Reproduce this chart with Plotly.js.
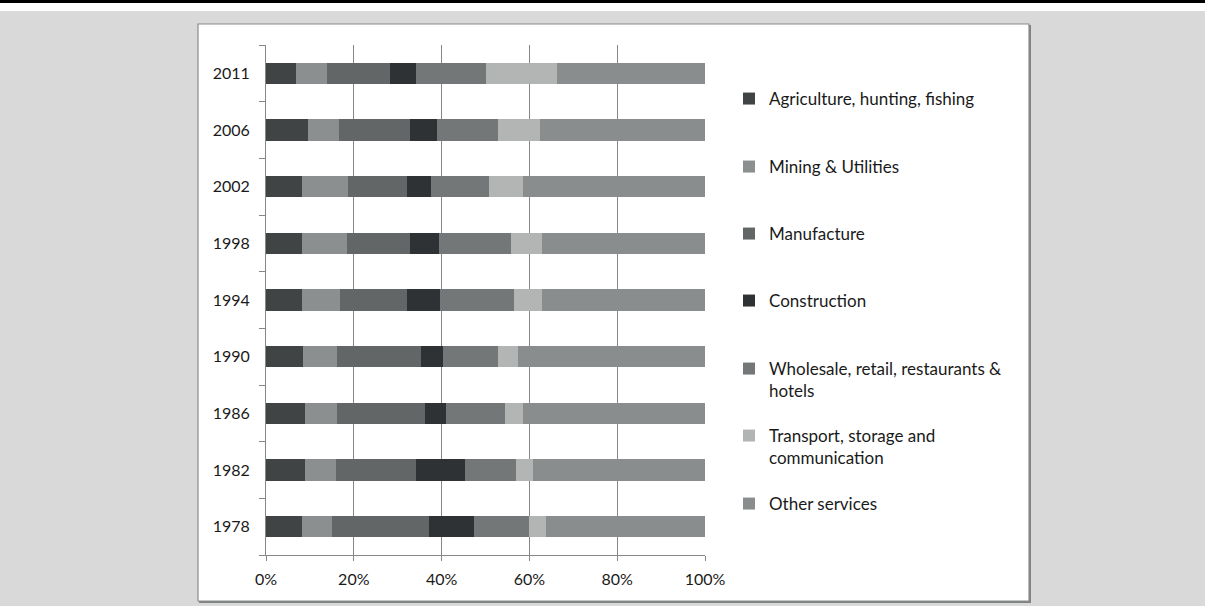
<!DOCTYPE html>
<html>
<head>
<meta charset="utf-8">
<script src="https://cdn.plot.ly/plotly-3.0.1.min.js"></script>
<style>
  html, body { margin: 0; padding: 0; background: #d9d9d9; }
  #chart { width: 1205px; height: 606px; }
</style>
</head>
<body>
<div id="chart"></div>
<script>
// ---- data (percent of total) ----
const years = ['1978', '1982', '1986', '1990', '1994', '1998', '2002', '2006', '2011'];
const seriesNames = [
  'Agriculture, hunting, fishing',
  'Mining & Utilities',
  'Manufacture',
  'Construction',
  'Wholesale, retail, restaurants &<br>hotels',
  'Transport, storage and<br>communication',
  'Other services'
];
const agriculture  = [8.3, 8.8, 8.95, 8.5, 8.3, 8.3, 8.3, 9.6, 6.9];
const mining       = [6.8, 7.2, 7.25, 7.7, 8.6, 10.1, 10.3, 7.1, 7.05];
const manufacture  = [22.1, 18.2, 20.1, 19.1, 15.3, 14.5, 13.6, 16.15, 14.35];
const construction = [10.1, 11.2, 4.8, 5.1, 7.5, 6.45, 5.4, 6.15, 5.8];
const wholesale    = [12.7, 11.6, 13.4, 12.5, 16.8, 16.4, 13.2, 13.8, 15.9];
const transport    = [3.8, 3.9, 4.1, 4.5, 6.4, 7.2, 7.8, 9.6, 16.3];
const otherServ    = [36.2, 39.1, 41.4, 42.6, 37.1, 37.1, 41.4, 37.6, 33.7];
const xTickVals    = [0, 20, 40, 60, 80, 100];
const xTickText    = ['0%', '20%', '40%', '60%', '80%', '100%'];

// ---- styling ----
const colors = ['#414445', '#8c8f8f', '#636666', '#2f3234', '#747777', '#b3b5b4', '#8a8d8d'];
const values = [agriculture, mining, manufacture, construction, wholesale, transport, otherServ];
const FONT = 'Lato, "Open Sans", sans-serif';

const W = 1205, H = 606;
const L = 266, R = 705, T = 45, B = 555;
const px = x => (x - L) / (R - L);
const py = y => (B - y) / (B - T);

const legendIds = ['legend', 'legend2', 'legend3', 'legend4', 'legend5', 'legend6', 'legend7'];
const legendTops = [99, 167, 234, 301, 369, 436, 504];
const legendLeft = 729;

const traces = values.map((v, i) => ({
  type: 'bar',
  orientation: 'h',
  name: seriesNames[i],
  y: years,
  x: v,
  marker: { color: colors[i], line: { width: 0 } },
  legend: legendIds[i],
  hoverinfo: 'skip'
}));

const layout = {
  width: W, height: H,
  margin: { l: L, r: W - R, t: T, b: H - B, pad: 0 },
  paper_bgcolor: '#d9d9d9',
  plot_bgcolor: 'rgba(0,0,0,0)',
  barmode: 'stack',
  barnorm: 'percent',
  bargap: 0.62,
  font: { family: FONT, size: 16, color: '#1a1a1a' },
  xaxis: {
    range: [0, 100],
    tickmode: 'array',
    tickvals: xTickVals,
    ticktext: xTickText,
    showgrid: true, gridcolor: '#878787', gridwidth: 1,
    showline: true, linecolor: '#878787', linewidth: 1,
    ticks: 'outside', ticklen: 5, tickcolor: '#878787',
    ticklabelstandoff: 5,
    zeroline: false,
    tickfont: { family: FONT, size: 16, color: '#1a1a1a' }
  },
  yaxis: {
    type: 'category',
    categoryorder: 'array', categoryarray: years,
    showgrid: false,
    showline: true, linecolor: '#878787', linewidth: 1,
    ticks: 'outside', ticklen: 6, tickcolor: '#878787',
    tickson: 'boundaries',
    ticklabelstandoff: 12,
    tickfont: { family: FONT, size: 16, color: '#1a1a1a' }
  },
  shapes: [
    { type: 'rect', xref: 'paper', yref: 'paper', layer: 'below',
      x0: px(0), x1: px(W), y0: py(0), y1: py(3), fillcolor: '#000', line: { width: 0 } },
    { type: 'rect', xref: 'paper', yref: 'paper', layer: 'below',
      x0: px(0), x1: px(W), y0: py(3), y1: py(11), fillcolor: '#ffffff', line: { width: 0 } },
    { type: 'rect', xref: 'paper', yref: 'paper', layer: 'below',
      x0: px(199), x1: px(1031), y0: py(25), y1: py(603), fillcolor: '#7f8283', line: { width: 0 } },
    { type: 'rect', xref: 'paper', yref: 'paper', layer: 'below',
      x0: px(198), x1: px(1029), y0: py(24), y1: py(601), fillcolor: '#ffffff',
      line: { color: '#8a8d8e', width: 1.2 } }
  ],
  showlegend: true
};

legendIds.forEach((id, i) => {
  layout[id] = {
    x: px(legendLeft), xanchor: 'left',
    y: py(legendTops[i] - 18), yanchor: 'top',
    bgcolor: 'rgba(0,0,0,0)', borderwidth: 0,
    valign: 'top',
    font: { family: FONT, size: 17, color: '#1a1a1a' }
  };
});

Plotly.newPlot('chart', traces, layout, { staticPlot: true, displayModeBar: false });
</script>
</body>
</html>
